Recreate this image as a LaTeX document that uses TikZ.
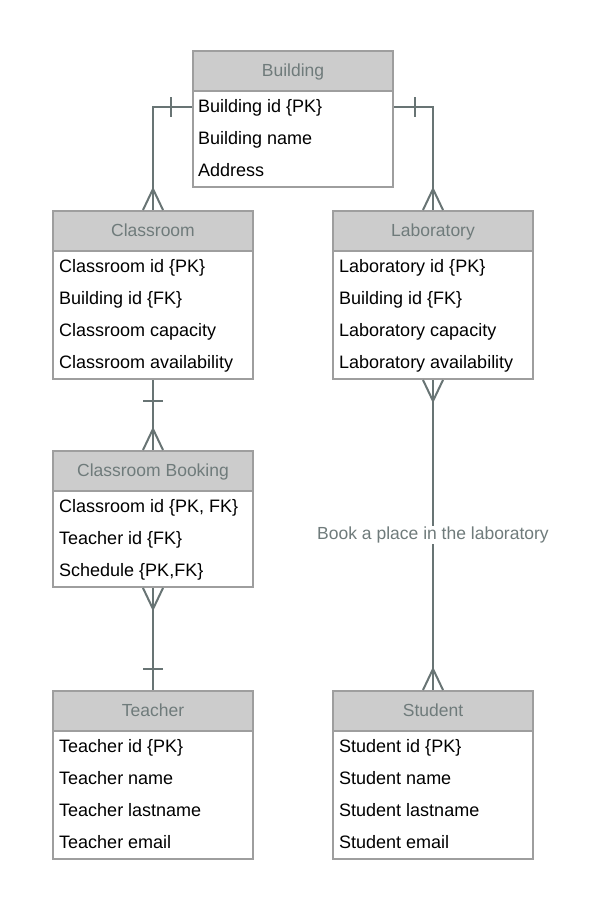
\documentclass[tikz,border=0pt]{standalone}
\usepackage{fontspec}
\setmainfont{Liberation Sans}
\definecolor{hdrfill}{HTML}{CCCCCC}
\definecolor{boxline}{HTML}{9E9E9E}
\definecolor{hdrtext}{HTML}{6F7B7B}
\definecolor{connline}{HTML}{687474}
\tikzset{
  hdr/.style={draw=boxline, line width=2pt, fill=hdrfill, minimum width=200pt, minimum height=40pt, inner sep=0pt, text=hdrtext, font=\fontsize{17.5}{20}\selectfont, text height=15pt, text depth=4pt},
  entbody/.style={draw=boxline, line width=2pt, fill=white, minimum width=200pt, inner sep=0pt},
  rowtxt/.style={anchor=west, inner sep=0pt, text=black, font=\fontsize{18}{20}\selectfont, text height=15pt, text depth=4pt},
  conn/.style={draw=connline, line width=2pt},
  lbl/.style={fill=white, inner sep=1pt, text=hdrtext, font=\fontsize{17.5}{20}\selectfont}
}
\begin{document}
\begin{tikzpicture}[x=1pt, y=-1pt]
\useasboundingbox[fill=white] (0,0) rectangle (599,910);
% Building
\node[entbody, minimum height=96pt] (bldb) at (293,139) {};
\node[hdr] (bldh) at (293,71) {Building};
\node[rowtxt] (bld1) at (198,107) {Building id \{PK\}};
\node[rowtxt] (bld2) at (198,139) {Building name};
\node[rowtxt] (bld3) at (198,171) {Address};
% Classroom
\node[entbody, minimum height=128pt] (clsb) at (153,315) {};
\node[hdr] (clsh) at (153,231) {Classroom};
\node[rowtxt] (cls1) at (59,267) {Classroom id \{PK\}};
\node[rowtxt] (cls2) at (59,299) {Building id \{FK\}};
\node[rowtxt] (cls3) at (59,331) {Classroom capacity};
\node[rowtxt] (cls4) at (59,363) {Classroom availability};
% Laboratory
\node[entbody, minimum height=128pt] (labb) at (433,315) {};
\node[hdr] (labh) at (433,231) {Laboratory};
\node[rowtxt] (lab1) at (339,267) {Laboratory id \{PK\}};
\node[rowtxt] (lab2) at (339,299) {Building id \{FK\}};
\node[rowtxt] (lab3) at (339,331) {Laboratory capacity};
\node[rowtxt] (lab4) at (339,363) {Laboratory availability};
% Classroom Booking
\node[entbody, minimum height=96pt] (bkgb) at (153,539) {};
\node[hdr] (bkgh) at (153,471) {Classroom Booking};
\node[rowtxt] (bkg1) at (59,507) {Classroom id \{PK, FK\}};
\node[rowtxt] (bkg2) at (59,539) {Teacher id \{FK\}};
\node[rowtxt] (bkg3) at (59,571) {Schedule \{PK,FK\}};
% Teacher
\node[entbody, minimum height=128pt] (tchb) at (153,795) {};
\node[hdr] (tchh) at (153,711) {Teacher};
\node[rowtxt] (tch1) at (59,747) {Teacher id \{PK\}};
\node[rowtxt] (tch2) at (59,779) {Teacher name};
\node[rowtxt] (tch3) at (59,811) {Teacher lastname};
\node[rowtxt] (tch4) at (59,843) {Teacher email};
% Student
\node[entbody, minimum height=128pt] (stdb) at (433,795) {};
\node[hdr] (stdh) at (433,711) {Student};
\node[rowtxt] (std1) at (339,747) {Student id \{PK\}};
\node[rowtxt] (std2) at (339,779) {Student name};
\node[rowtxt] (std3) at (339,811) {Student lastname};
\node[rowtxt] (std4) at (339,843) {Student email};

% Building -> Classroom
\coordinate (bl) at (bldb.west |- bld1);
\coordinate (br) at (bldb.east |- bld1);
\draw[conn] (bl) -| (clsh.north);
\draw[conn] ([xshift=-21pt,yshift=10pt]bl) -- ([xshift=-21pt,yshift=-10pt]bl);
\draw[conn] ([xshift=-10pt]clsh.north) -- ([yshift=21pt]clsh.north) -- ([xshift=10pt]clsh.north);
% Building -> Laboratory
\draw[conn] (br) -| (labh.north);
\draw[conn] ([xshift=21pt,yshift=10pt]br) -- ([xshift=21pt,yshift=-10pt]br);
\draw[conn] ([xshift=-10pt]labh.north) -- ([yshift=21pt]labh.north) -- ([xshift=10pt]labh.north);
% Classroom -> Booking
\draw[conn] (clsb.south) -- (bkgh.north);
\draw[conn] ([xshift=-10pt,yshift=-21pt]clsb.south) -- ([xshift=10pt,yshift=-21pt]clsb.south);
\draw[conn] ([xshift=-10pt]bkgh.north) -- ([yshift=21pt]bkgh.north) -- ([xshift=10pt]bkgh.north);
% Booking -> Teacher
\draw[conn] (bkgb.south) -- (tchh.north);
\draw[conn] ([xshift=-10pt]bkgb.south) -- ([yshift=-21pt]bkgb.south) -- ([xshift=10pt]bkgb.south);
\draw[conn] ([xshift=-10pt,yshift=21pt]tchh.north) -- ([xshift=10pt,yshift=21pt]tchh.north);
% Laboratory -> Student
\draw[conn] (labb.south) -- (stdh.north) node[lbl, pos=0.5] (booklbl) {Book a place in the laboratory};
\draw[conn] ([xshift=-10pt]labb.south) -- ([yshift=-21pt]labb.south) -- ([xshift=10pt]labb.south);
\draw[conn] ([xshift=-10pt]stdh.north) -- ([yshift=21pt]stdh.north) -- ([xshift=10pt]stdh.north);
\end{tikzpicture}
\end{document}
